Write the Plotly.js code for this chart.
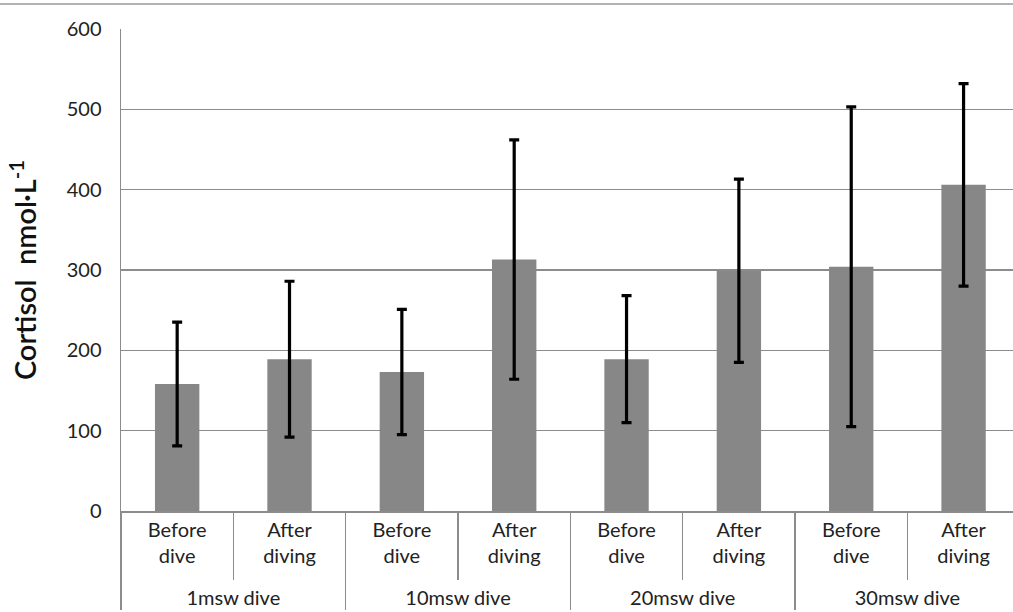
<!DOCTYPE html>
<html>
<head>
<meta charset="utf-8">
<script src="https://cdn.plot.ly/plotly-3.0.1.min.js"></script>
<style>html,body{margin:0;padding:0;background:#fff;}#chart{width:1013px;height:612px;}</style>
</head>
<body>
<div id="chart"></div>
<script>
// Data
const groups = ["1msw dive","1msw dive","10msw dive","10msw dive","20msw dive","20msw dive","30msw dive","30msw dive"];
const conditions = ["Before<br>dive","After<br>diving","Before<br>dive","After<br>diving","Before<br>dive","After<br>diving","Before<br>dive","After<br>diving"];
const cortisolMean = [158, 189, 173, 313, 189, 299, 304, 406];
const cortisolSD = [77, 97, 78, 149, 79, 114, 199, 126];
const yTickValues = [0, 100, 200, 300, 400, 500, 600];

const grey = "#878787";
const lineGrey = "#8c8c8c";
const fontFam = "Lato, 'Open Sans', sans-serif";

// a tiny blank trailing line gives the first label row the extra depth seen in the reference
const conditionLabels = conditions.map(c => c + "<br><sup>&nbsp;</sup>");

const trace = {
  type: "bar",
  x: [groups, conditionLabels],
  y: cortisolMean,
  marker: {color: grey, line: {width: 0}},
  width: 0.395,
  error_y: {type: "data", array: cortisolSD, visible: true, color: "#000", thickness: 3.2, width: 5},
  hoverinfo: "y"
};

const layout = {
  width: 1013, height: 612,
  margin: {l: 121, r: 0, t: 29, b: 101},
  paper_bgcolor: "#fff", plot_bgcolor: "#fff",
  showlegend: false,
  font: {family: fontFam, color: "#222"},
  xaxis: {
    type: "multicategory",
    range: [-0.5, 7.44],
    showline: true, linecolor: lineGrey, linewidth: 1.5,
    ticks: "outside", tickson: "boundaries", ticklen: 67, tickcolor: lineGrey, tickwidth: 1.5,
    ticklabelstandoff: 0,
    showdividers: true, dividercolor: lineGrey, dividerwidth: 1.5,
    tickfont: {family: fontFam, size: 20, color: "#222"},
    showgrid: false, zeroline: false, fixedrange: true
  },
  yaxis: {
    range: [0, 600], tickvals: yTickValues, ticktext: yTickValues.map(String),
    showline: true, linecolor: lineGrey, linewidth: 1.5,
    showgrid: true, gridcolor: lineGrey, gridwidth: 1.4,
    zeroline: false, ticks: "", ticklabelstandoff: 14,
    tickfont: {family: fontFam, size: 20, color: "#222"},
    title: {text: "Cortisol  nmol·L<sup>-1</sup>", font: {family: fontFam, size: 29, color: "#111", weight: 600}, standoff: 21},
    fixedrange: true
  },
  shapes: [
    {type: "line", xref: "paper", yref: "paper", x0: -0.14, x1: 1.0, y0: 1.0519, y1: 1.0519, line: {color: "#999", width: 1.5}}
  ]
};

Plotly.newPlot("chart", [trace], layout, {displayModeBar: false, staticPlot: true});
</script>
</body>
</html>
